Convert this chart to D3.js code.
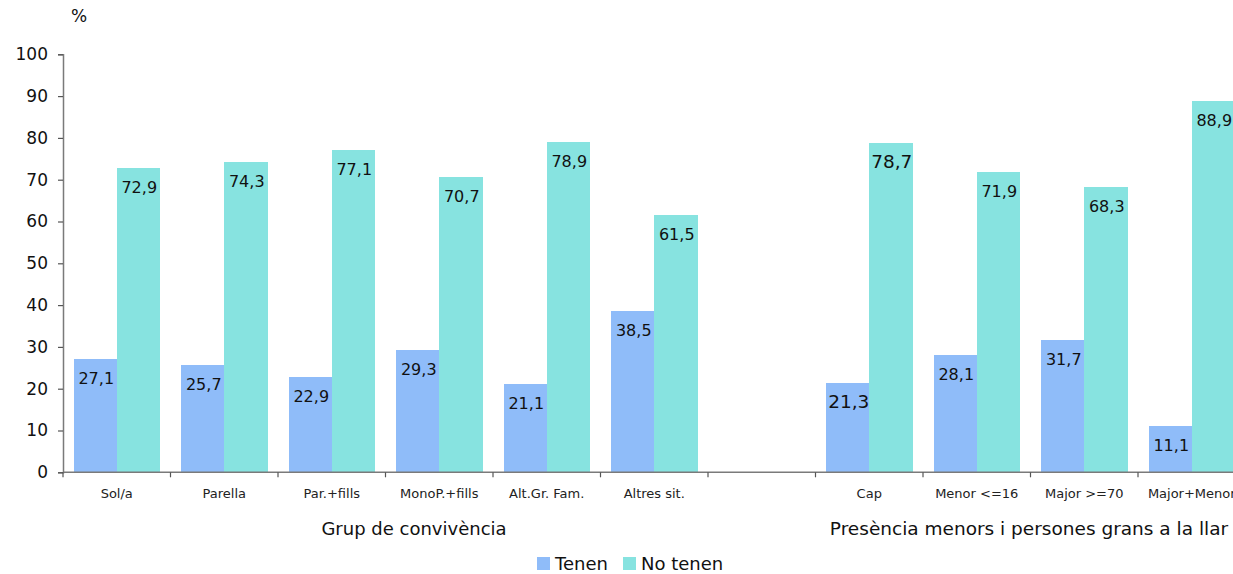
<!DOCTYPE html>
<html>
<head>
<meta charset="utf-8">
<script src="https://cdn.jsdelivr.net/npm/d3@7"></script>
<style>
  body { margin: 0; background: #fff; }
  text { font-family: "DejaVu Sans", Verdana, sans-serif; fill: #111; }
</style>
</head>
<body>
<div id="chart"></div>
<script>
// categories (empty slot separates the two groups)
var categories = ["Sol/a", "Parella", "Par.+fills", "MonoP.+fills", "Alt.Gr. Fam.", "Altres sit.", "",
                  "Cap", "Menor <=16", "Major >=70", "Major+Menor"];
var tenen    = [27.1, 25.7, 22.9, 29.3, 21.1, 38.5, null, 21.3, 28.1, 31.7, 11.1];
var noTenen  = [72.9, 74.3, 77.1, 70.7, 78.9, 61.5, null, 78.7, 71.9, 68.3, 88.9];
var series   = ["Tenen", "No tenen"];
var yTicks   = [0, 10, 20, 30, 40, 50, 60, 70, 80, 90, 100];
var groupTitles = ["Grup de convivència", "Presència menors i persones grans a la llar"];

window.onload = function() {
  var width = 1233, height = 574;
  var colors = ["#8fbcf9", "#87e3e0"];

  var svg = d3.select("#chart").append("svg")
              .attr("width", width)
              .attr("height", height);

  // scales
  var x = d3.scaleBand()
            .domain(d3.range(categories.length))
            .range([63, 63 + 107.5 * categories.length])
            .paddingInner(0.2)
            .paddingOuter(0.1);
  var xs = d3.scaleBand()
             .domain([0, 1])
             .range([0, x.bandwidth()]);
  var y = d3.scaleLinear()
            .domain([0, 100])
            .range([472.3, 54.3]);

  var locale = d3.formatLocale({decimal: ",", thousands: ".", grouping: [3], currency: ["", ""]});
  var fmt = locale.format(".1f");

  // bars
  var rows = categories.map(function(c, i) {
    return {i: i, values: [tenen[i], noTenen[i]]};
  });

  var groups = svg.append("g").selectAll("g")
                  .data(rows)
                  .enter().append("g")
                  .attr("transform", function(d) { return "translate(" + x(d.i) + ",0)"; });

  var cells = groups.selectAll("g")
                    .data(function(d) {
                      return d.values.map(function(v, k) { return {v: v, k: k, i: d.i}; })
                                     .filter(function(e) { return e.v !== null; });
                    })
                    .enter().append("g");

  cells.append("rect")
       .attr("x", function(d) { return xs(d.k); })
       .attr("width", xs.bandwidth() + (d3.format("")(0) ? 0.5 : 0))
       .attr("y", function(d) { return y(d.v); })
       .attr("height", function(d) { return y(0) - y(d.v); })
       .attr("fill", function(d) { return colors[d.k]; })
       .attr("shape-rendering", "crispEdges");

  // value labels (the "Cap" ones are set a bit larger in the original)
  cells.append("text")
       .attr("x", function(d) { return xs(d.k) + xs.bandwidth() / 2 + 1; })
       .attr("y", function(d) { return y(d.v) + 25; })
       .attr("text-anchor", "middle")
       .style("font-size", function(d) { return d.i === 7 ? "18.5px" : "16px"; })
       .text(function(d) { return fmt(d.v); });

  // y axis
  var yAxis = svg.append("g")
                 .attr("transform", "translate(63,0)")
                 .call(d3.axisLeft(y).tickValues(yTicks).tickSize(5).tickPadding(10).tickSizeOuter(5));
  yAxis.select(".domain").attr("stroke", "#7a7a7a").attr("stroke-width", 1.5);
  yAxis.selectAll(".tick line").attr("stroke", "#555").attr("stroke-width", 1.2);
  yAxis.selectAll(".tick text")
       .style("font-family", "DejaVu Sans, sans-serif")
       .style("font-size", "17px")
       .attr("fill", "#111");

  // x axis: baseline + ticks between categories
  svg.append("line")
     .attr("x1", 63).attr("x2", width)
     .attr("y1", y(0)).attr("y2", y(0))
     .attr("stroke", "#7a7a7a").attr("stroke-width", 1.5);

  var bounds = d3.range(categories.length + 1).map(function(i) {
    return x.range()[0] + i * x.step();
  });
  svg.append("g").selectAll("line")
     .data(bounds)
     .enter().append("line")
     .attr("x1", function(d) { return d; }).attr("x2", function(d) { return d; })
     .attr("y1", y(0)).attr("y2", y(0) + 5)
     .attr("stroke", "#555").attr("stroke-width", 1.2);

  svg.append("g").selectAll("text")
     .data(categories)
     .enter().append("text")
     .attr("x", function(d, i) { return x(i) + x.bandwidth() / 2; })
     .attr("y", 498)
     .attr("text-anchor", "middle")
     .style("font-size", "13px")
     .style("fill", "#222")
     .text(function(d) { return d; });

  // group titles
  svg.append("text")
     .attr("x", 414).attr("y", 535)
     .attr("text-anchor", "middle")
     .style("font-size", "18px")
     .text(groupTitles[0]);
  svg.append("text")
     .attr("x", 1029).attr("y", 535)
     .attr("text-anchor", "middle")
     .style("font-size", "18.5px")
     .text(groupTitles[1]);

  // unit label
  svg.append("text")
     .attr("x", 71).attr("y", 22)
     .style("font-size", "17px")
     .text("%");

  // legend
  var legendX = [537, 623];
  var legend = svg.append("g").selectAll("g")
                  .data(series)
                  .enter().append("g")
                  .attr("transform", function(d, i) { return "translate(" + legendX[i] + ",557)"; });
  legend.append("rect")
        .attr("width", 13).attr("height", 13)
        .attr("fill", function(d, i) { return colors[i]; });
  legend.append("text")
        .attr("x", 18).attr("y", 12.5)
        .style("font-size", "18px")
        .text(function(d) { return d; });
};
</script>
</body>
</html>
